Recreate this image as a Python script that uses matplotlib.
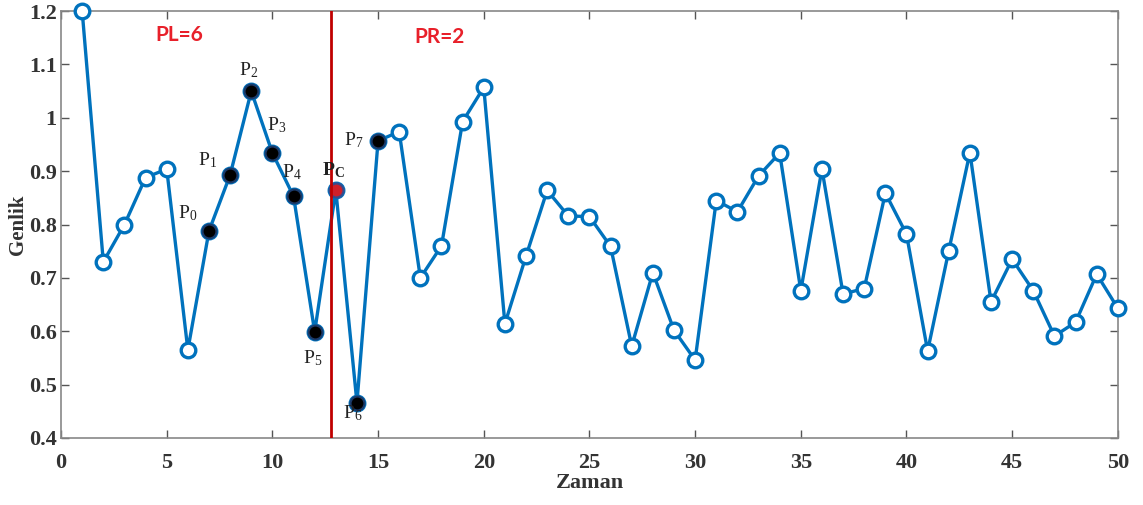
import numpy as np
import matplotlib
matplotlib.use("Agg")
import matplotlib.pyplot as plt

plt.rcParams['mathtext.fontset'] = 'custom'
plt.rcParams['mathtext.rm'] = 'Liberation Serif'
plt.rcParams['mathtext.it'] = 'Liberation Serif:italic'
plt.rcParams['mathtext.bf'] = 'Liberation Serif:bold'

# time index and amplitude values
zaman = np.arange(1, 51)
genlik = [1.20, 0.73, 0.80, 0.888, 0.904, 0.565, 0.788, 0.893, 1.05, 0.934,
          0.853, 0.599, 0.864, 0.466, 0.957, 0.974, 0.70, 0.76, 0.993, 1.057,
          0.614, 0.741, 0.864, 0.816, 0.815, 0.759, 0.572, 0.71, 0.602, 0.546,
          0.845, 0.824, 0.891, 0.934, 0.676, 0.904, 0.67, 0.68, 0.859, 0.782,
          0.563, 0.751, 0.935, 0.655, 0.735, 0.676, 0.591, 0.617, 0.707, 0.643]

# selected points P0..P7 and the centre point Pc
p_x = [7, 8, 9, 10, 11, 12, 14, 15]
p_names = ['0', '1', '2', '3', '4', '5', '6', '7']
p_label_pos = [(6.0, 0.822), (6.95, 0.921), (8.86, 1.089), (10.2, 0.986),
               (10.9, 0.899), (11.9, 0.55), (13.8, 0.447), (13.85, 0.958)]
pc_x = 13
split_x = 12.78

blue = '#0072BD'

fig = plt.figure(figsize=(11.43, 5.05), dpi=100)
ax = fig.add_axes([0.0534, 0.1327, 0.9246, 0.8453])

ax.plot(zaman, genlik, '-o', color=blue, lw=2.4, ms=10.5, mfc='white',
        mec=blue, mew=2.4, zorder=3, clip_on=False)

py = [genlik[x - 1] for x in p_x]
ax.plot(p_x, py, 'o', ms=10, mfc='black', mec='#1a3a6a', mew=1.5, ls='none', zorder=4)
ax.plot([pc_x], [genlik[pc_x - 1]], 'o', ms=10, mfc='#d0202a', mec='#3a4a8a',
        mew=1.5, ls='none', zorder=4)

ax.axvline(split_x, color='#c00000', lw=2, zorder=5)

for name, (tx, ty) in zip(p_names, p_label_pos):
    ax.text(tx, ty, r'$\mathrm{P}_{%s}$' % name, fontsize=14, ha='center',
            va='center', color='#222222', zorder=6)
ax.text(12.9, 0.902, r'$\mathbf{P}_{\mathbf{C}}$', fontsize=14, ha='center',
        va='center', color='#222222', zorder=6)

ax.text(5.6, 1.155, 'PL=6', color='#e8202a', fontsize=15, fontweight='bold',
        family='Lato', ha='center', va='center')
ax.text(17.9, 1.151, 'PR=2', color='#e8202a', fontsize=15, fontweight='bold',
        family='Lato', ha='center', va='center')

ax.set_xlim(0, 50)
ax.set_ylim(0.4, 1.2)
ax.set_xticks(np.arange(0, 51, 5))
ax.set_yticks(np.arange(0.4, 1.21, 0.1))
ax.set_yticklabels(['0.4', '0.5', '0.6', '0.7', '0.8', '0.9', '1', '1.1', '1.2'])
ax.tick_params(direction='in', top=True, right=True, length=6, width=1,
               color='#555555', labelsize=16, labelcolor='#333333')
ax.tick_params(axis='x', pad=11)
ax.tick_params(axis='y', pad=3)
for lab in ax.get_xticklabels() + ax.get_yticklabels():
    lab.set_family('Liberation Serif')
    lab.set_fontweight('bold')
for s in ax.spines.values():
    s.set_color('#888888')
    s.set_linewidth(1.2)

ax.set_xlabel('Zaman', family='Liberation Serif', fontweight='bold',
              fontsize=16, color='#333333', labelpad=0)
ax.set_ylabel('Genlik', family='Liberation Serif', fontweight='bold',
              fontsize=15, color='#333333', labelpad=1)

fig.savefig('out.png', dpi=100)
